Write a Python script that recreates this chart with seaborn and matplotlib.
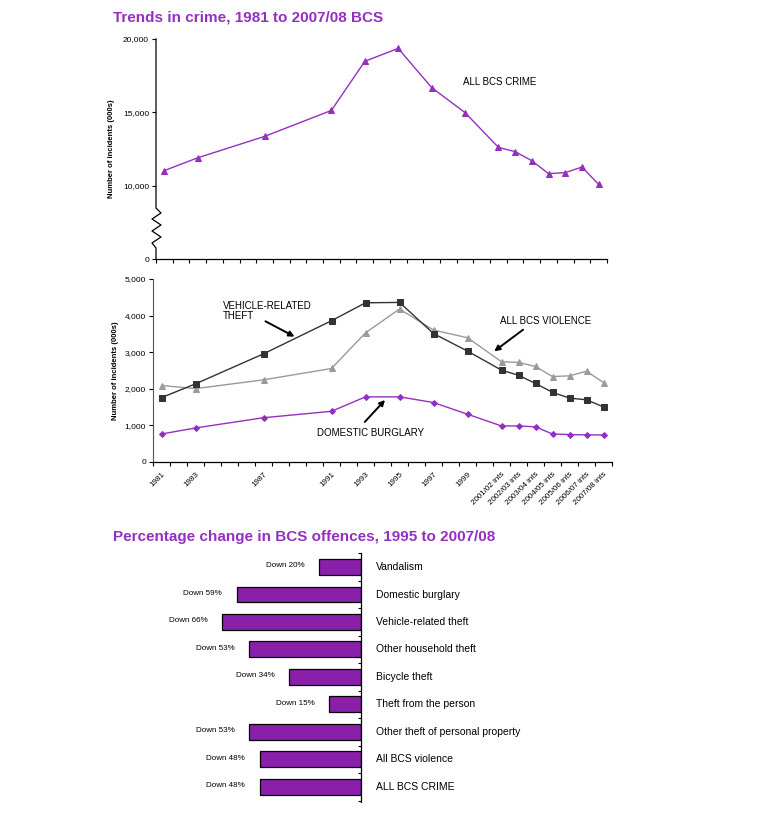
import matplotlib
matplotlib.use("Agg")
import matplotlib.pyplot as plt
import seaborn as sns
import pandas as pd

PURPLE = "#9430c0"
BAR_PURPLE = "#8a1faa"
DARK = "#333333"
GREY = "#9a9a9a"

# data

periods = ["1981", "1983", "1987", "1991", "1993", "1995", "1997", "1999",
           "2001/02", "2002/03", "2003/04", "2004/05", "2005/06", "2006/07", "2007/08"]

all_crime = [11030, 11900, 13360, 15130, 18480, 19360, 16690, 14980,
             12610, 12320, 11700, 10820, 10890, 11270, 10090]

vehicle_theft = [1760, 2135, 2955, 3860, 4350, 4360, 3510, 3030,
                 2510, 2370, 2145, 1905, 1745, 1700, 1505]

violence = [2090, 2005, 2245, 2555, 3530, 4180, 3605, 3395,
            2740, 2720, 2610, 2335, 2355, 2480, 2170]

burglary = [765, 930, 1210, 1385, 1780, 1780, 1625, 1305,
            985, 985, 960, 765, 750, 740, 740]

offences = ["Vandalism", "Domestic burglary", "Vehicle-related theft",
            "Other household theft", "Bicycle theft", "Theft from the person",
            "Other theft of personal property", "All BCS violence", "ALL BCS CRIME"]
pct_down = [20, 59, 66, 53, 34, 15, 53, 48, 48]

FIRST_YEAR = 1981
N_SLOTS = 27


def slot(p):
    return int(p[:4]) - FIRST_YEAR + 0.5


def tick_label(p):
    return p if len(p) == 4 else p + " ints"


def fig_rect(left, top, right, bottom, W=778, H=819):
    return [left / W, 1 - bottom / H, (right - left) / W, (bottom - top) / H]


plt.rcParams["font.family"] = ["Liberation Sans", "DejaVu Sans"]

fig = plt.figure(figsize=(7.78, 8.19), dpi=100)
fig.patch.set_facecolor("white")

x = [slot(p) for p in periods]

# top panel

ax1 = fig.add_axes(fig_rect(156, 39, 607, 259))
df1 = pd.DataFrame({"x": x, "y": all_crime})
sns.lineplot(data=df1, x="x", y="y", ax=ax1, color=PURPLE, lw=1,
             marker="^", markersize=4.5, markeredgecolor=PURPLE)
ax1.set_xlim(0, N_SLOTS)
ax1.set_ylim(5000, 20000)
ax1.set_yticks([5000, 10000, 15000, 20000])
ax1.set_yticklabels(["0", "10,000", "15,000", "20,000"], fontsize=6)
ax1.set_xticks(range(N_SLOTS + 1))
ax1.set_xticklabels([])
ax1.tick_params(axis="x", length=3, width=0.8, direction="out")
ax1.tick_params(axis="y", length=3, width=0.8, direction="out", pad=2)
ax1.set_xlabel("")
ax1.set_ylabel("Number of incidents (000s)", fontsize=5.5, fontweight="bold", labelpad=6)
for s in ["top", "right"]:
    ax1.spines[s].set_visible(False)
ax1.spines["left"].set_visible(False)
ax1.spines["bottom"].set_linewidth(0.9)

# broken left axis with zigzag
px = [0, 0, 5, -4, 5, -4, 5, -4, 0, 0]
py = [39, 208, 213, 219, 225, 231, 237, 243, 248, 259]
ax1.plot([p / 451 for p in px], [(259 - q) / 220 for q in py], color="black",
         lw=0.9, transform=ax1.transAxes, clip_on=False)

ax1.text(18.4, 17070, "ALL BCS CRIME", fontsize=7, va="center", ha="left")

# bottom panel

ax2 = fig.add_axes(fig_rect(153, 279, 612, 462))
df_v = pd.DataFrame({"x": x, "y": vehicle_theft})
df_b = pd.DataFrame({"x": x, "y": violence})
df_d = pd.DataFrame({"x": x, "y": burglary})
sns.lineplot(data=df_b, x="x", y="y", ax=ax2, color=GREY, lw=1,
             marker="^", markersize=5, markeredgecolor=GREY)
sns.lineplot(data=df_v, x="x", y="y", ax=ax2, color=DARK, lw=1,
             marker="s", markersize=4.5, markeredgecolor=DARK)
sns.lineplot(data=df_d, x="x", y="y", ax=ax2, color=PURPLE, lw=1,
             marker="D", markersize=3, markeredgecolor=PURPLE)
ax2.set_xlim(0, N_SLOTS)
ax2.set_ylim(0, 5000)
ax2.set_yticks(range(0, 5001, 1000))
ax2.set_yticklabels(["0"] + [f"{v:,}" for v in range(1000, 5001, 1000)], fontsize=6)
ax2.set_xticks(range(N_SLOTS + 1))
ax2.set_xticklabels([])
ax2.set_xticks(x, minor=True)
ax2.set_xticklabels([tick_label(p) for p in periods], minor=True, fontsize=5.8,
                    rotation=45, ha="right", rotation_mode="anchor")
ax2.tick_params(axis="x", which="major", length=3, width=0.8)
ax2.tick_params(axis="x", which="minor", length=0, pad=6)
ax2.tick_params(axis="y", length=3, width=0.8, pad=2)
ax2.set_xlabel("")
ax2.set_ylabel("Number of incidents (000s)", fontsize=5.5, fontweight="bold", labelpad=4)
for s in ["top", "right"]:
    ax2.spines[s].set_visible(False)
ax2.spines["left"].set_color("#555555")
ax2.spines["bottom"].set_linewidth(0.9)

arrow = dict(arrowstyle="-|>", color="black", lw=1.4, mutation_scale=8)
ax2.text(4.1, 4400, "VEHICLE-RELATED\nTHEFT", fontsize=7, va="top", ha="left",
         linespacing=1.0)
ax2.annotate("", xy=(8.47, 3390), xytext=(6.47, 3880), arrowprops=arrow)
ax2.text(20.4, 3850, "ALL BCS VIOLENCE", fontsize=7, va="center", ha="left")
ax2.annotate("", xy=(19.94, 2980), xytext=(21.9, 3660), arrowprops=arrow)
ax2.text(9.65, 790, "DOMESTIC BURGLARY", fontsize=7, va="center", ha="left")
ax2.annotate("", xy=(13.76, 1750), xytext=(12.35, 1040), arrowprops=arrow)

fig.text(113 / 778, 1 - 18 / 819, "Trends in crime, 1981 to 2007/08 BCS",
         color=PURPLE, fontsize=11, fontweight="bold", va="center", ha="left")

# bar panel

ax3 = fig.add_axes(fig_rect(100, 553, 361, 802))
dfb = pd.DataFrame({"offence": offences, "change": [-v for v in pct_down]})
sns.barplot(data=dfb, y="offence", x="change", orient="h", ax=ax3,
            color=BAR_PURPLE, saturation=1, width=0.58,
            edgecolor="black", linewidth=0.9)
ax3.set_xlim(-124, 0)
ax3.set_ylim(8.55, -0.51)
for s in ["top", "left", "bottom"]:
    ax3.spines[s].set_visible(False)
ax3.spines["right"].set_linewidth(0.9)
ax3.yaxis.tick_right()
ax3.set_yticks([i + 0.5 for i in range(len(offences) - 1)] + [-0.5, 8.5])
ax3.set_yticklabels([])
ax3.tick_params(axis="y", direction="in", length=2, width=0.8)
ax3.set_xticks([])
ax3.set_xlabel("")
ax3.set_ylabel("")
for i, (name, v) in enumerate(zip(offences, pct_down)):
    ax3.text(-v - 7, i - 0.05, f"Down {v}%", fontsize=5.8, ha="right", va="center")
    ax3.text(7, i, name, fontsize=7.5, ha="left", va="center", clip_on=False)

fig.text(113 / 778, 1 - 537 / 819, "Percentage change in BCS offences, 1995 to 2007/08",
         color=PURPLE, fontsize=11, fontweight="bold", va="center", ha="left")

fig.savefig("out.png", dpi=100, facecolor="white")
